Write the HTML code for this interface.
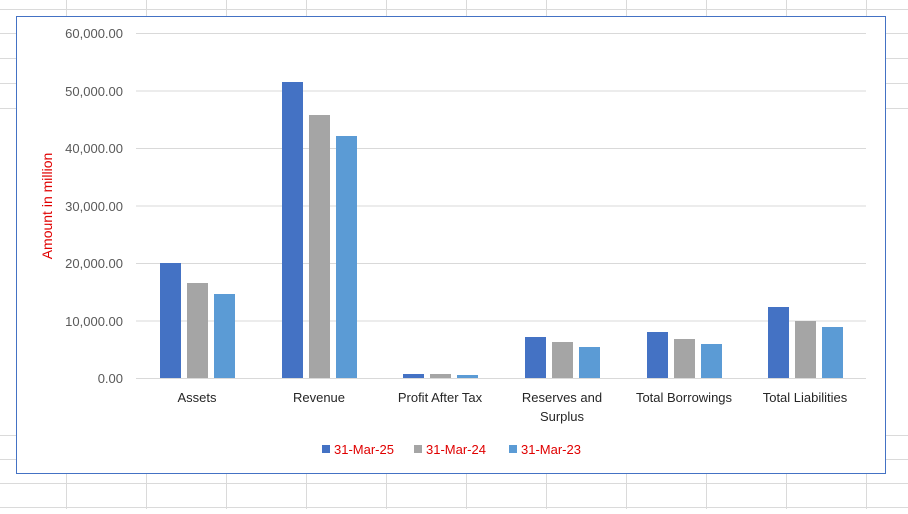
<!DOCTYPE html>
<html><head><style>
body{margin:0;width:908px;height:509px;overflow:hidden;background:#fff;font-family:"Liberation Sans",sans-serif}
</style></head><body>
<svg width="908" height="509" xmlns="http://www.w3.org/2000/svg" font-family="Liberation Sans, sans-serif">
<g stroke="#dadada" stroke-width="1">
<line x1="66.5" y1="0" x2="66.5" y2="509"/><line x1="146.5" y1="0" x2="146.5" y2="509"/><line x1="226.5" y1="0" x2="226.5" y2="509"/><line x1="306.5" y1="0" x2="306.5" y2="509"/><line x1="386.5" y1="0" x2="386.5" y2="509"/><line x1="466.5" y1="0" x2="466.5" y2="509"/><line x1="546.5" y1="0" x2="546.5" y2="509"/><line x1="626.5" y1="0" x2="626.5" y2="509"/><line x1="706.5" y1="0" x2="706.5" y2="509"/><line x1="786.5" y1="0" x2="786.5" y2="509"/><line x1="866.5" y1="0" x2="866.5" y2="509"/>
<line x1="0" y1="9.5" x2="908" y2="9.5"/><line x1="0" y1="33.5" x2="908" y2="33.5"/><line x1="0" y1="58.5" x2="908" y2="58.5"/><line x1="0" y1="83.5" x2="908" y2="83.5"/><line x1="0" y1="108.5" x2="908" y2="108.5"/>
<line x1="0" y1="435.5" x2="908" y2="435.5"/><line x1="0" y1="459.5" x2="908" y2="459.5"/><line x1="0" y1="483.5" x2="908" y2="483.5"/><line x1="0" y1="507.5" x2="908" y2="507.5"/>
</g>
<rect x="16.5" y="16.5" width="869" height="457" fill="#fff" stroke="#4472C4" stroke-width="1"/>
<g stroke="#d9d9d9" stroke-width="1">
<line x1="136" y1="33.5" x2="866" y2="33.5"/><line x1="136" y1="91" x2="866" y2="91"/><line x1="136" y1="148.5" x2="866" y2="148.5"/><line x1="136" y1="206" x2="866" y2="206"/><line x1="136" y1="263.5" x2="866" y2="263.5"/><line x1="136" y1="321" x2="866" y2="321"/><line x1="136" y1="378.5" x2="866" y2="378.5"/>
</g>
<g font-size="13" fill="#595959" text-anchor="end">
<text x="123" y="38">60,000.00</text><text x="123" y="96">50,000.00</text><text x="123" y="153">40,000.00</text><text x="123" y="211">30,000.00</text><text x="123" y="268">20,000.00</text><text x="123" y="326">10,000.00</text><text x="123" y="383">0.00</text>
</g>
<text transform="translate(52,206) rotate(-90)" font-size="14" fill="#e00000" text-anchor="middle">Amount in million</text>
<g>
<rect x="160" y="263" width="21" height="115" fill="#4472C4"/><rect x="187" y="283" width="21" height="95" fill="#A5A5A5"/><rect x="214" y="294" width="21" height="84" fill="#5B9BD5"/>
<rect x="282" y="82" width="21" height="296" fill="#4472C4"/><rect x="309" y="115" width="21" height="263" fill="#A5A5A5"/><rect x="336" y="136" width="21" height="242" fill="#5B9BD5"/>
<rect x="403" y="374" width="21" height="4" fill="#4472C4"/><rect x="430" y="374" width="21" height="4" fill="#A5A5A5"/><rect x="457" y="375" width="21" height="3" fill="#5B9BD5"/>
<rect x="525" y="337" width="21" height="41" fill="#4472C4"/><rect x="552" y="342" width="21" height="36" fill="#A5A5A5"/><rect x="579" y="347" width="21" height="31" fill="#5B9BD5"/>
<rect x="647" y="332" width="21" height="46" fill="#4472C4"/><rect x="674" y="339" width="21" height="39" fill="#A5A5A5"/><rect x="701" y="344" width="21" height="34" fill="#5B9BD5"/>
<rect x="768" y="307" width="21" height="71" fill="#4472C4"/><rect x="795" y="321" width="21" height="57" fill="#A5A5A5"/><rect x="822" y="327" width="21" height="51" fill="#5B9BD5"/>
</g>
<g font-size="13" fill="#262626" text-anchor="middle">
<text x="197" y="402">Assets</text><text x="319" y="402">Revenue</text><text x="440" y="402">Profit After Tax</text><text x="562" y="402">Reserves and</text><text x="562" y="421">Surplus</text><text x="684" y="402">Total Borrowings</text><text x="805" y="402">Total Liabilities</text>
</g>
<g font-size="13" fill="#e00000">
<rect x="322" y="445" width="8" height="8" fill="#4472C4"/><text x="334" y="454">31-Mar-25</text>
<rect x="414" y="445" width="8" height="8" fill="#A5A5A5"/><text x="426" y="454">31-Mar-24</text>
<rect x="509" y="445" width="8" height="8" fill="#5B9BD5"/><text x="521" y="454">31-Mar-23</text>
</g>
</svg>
</body></html>
